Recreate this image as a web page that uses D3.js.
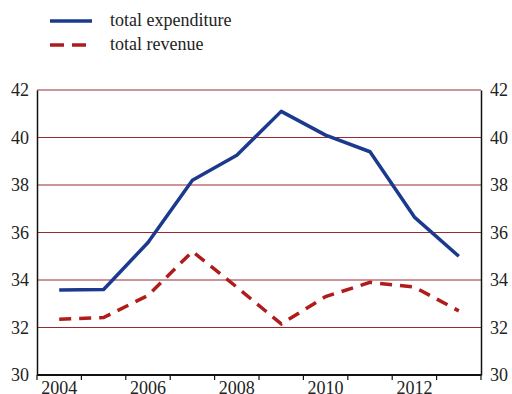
<!DOCTYPE html>
<html>
<head>
<meta charset="utf-8">
<script src="https://cdn.jsdelivr.net/npm/d3@7"></script>
<style>
  body { margin: 0; background: #fff; }
  svg { display: block; }
</style>
</head>
<body>
<svg width="512" height="394"></svg>
<script>
const years = [2004, 2005, 2006, 2007, 2008, 2009, 2010, 2011, 2012, 2013];
const expenditure = [33.58, 33.6, 35.58, 38.2, 39.25, 41.1, 40.1, 39.4, 36.65, 35.0];
const revenue = [32.35, 32.42, 33.35, 35.2, 33.7, 32.15, 33.3, 33.9, 33.7, 32.7];
const yTicks = [30, 32, 34, 36, 38, 40, 42];
const xLabels = [2004, 2006, 2008, 2010, 2012];

const svg = d3.select("svg");
const plotL = 37, plotR = 481, plotT = 90, plotB = 375;

const x = d3.scaleBand().domain(years).range([plotL, plotR]);
const y = d3.scaleLinear().domain([30, 42]).range([plotB, plotT]);

// gridlines
svg.append("g")
  .selectAll("line")
  .data(yTicks.filter(t => t > 30))
  .enter().append("line")
  .attr("x1", plotL).attr("x2", plotR)
  .attr("y1", d => y(d)).attr("y2", d => y(d))
  .attr("stroke", "#9a2a32")
  .attr("stroke-width", 1);

// left and right axes
const yLeft = svg.append("g")
  .attr("transform", `translate(${plotL},0)`)
  .call(d3.axisLeft(y).tickValues(yTicks).tickSize(0).tickPadding(8));
const yRight = svg.append("g")
  .attr("transform", `translate(${plotR},0)`)
  .call(d3.axisRight(y).tickValues(yTicks).tickSize(0).tickPadding(9));
[yLeft, yRight].forEach(g => {
  g.attr("font-family", null).attr("font-size", null);
  g.select(".domain").attr("stroke", "#111").attr("stroke-width", 1.5);
});

// bottom axis: ticks between bands, labels every other year
const xg = svg.append("g").attr("transform", `translate(0,${plotB})`);
xg.append("line")
  .attr("x1", plotL).attr("x2", plotR)
  .attr("stroke", "#111").attr("stroke-width", 2);
xg.selectAll("line.tick")
  .data(years.map(d => x(d)).concat([plotR]))
  .enter().append("line")
  .attr("class", "tick")
  .attr("x1", d => d).attr("x2", d => d)
  .attr("y1", 0).attr("y2", 5)
  .attr("stroke", "#111").attr("stroke-width", 1.2);
xg.selectAll("text")
  .data(xLabels)
  .enter().append("text")
  .attr("x", d => x(d) + x.bandwidth() / 2)
  .attr("y", 19)
  .attr("text-anchor", "middle")
  .text(d => d);

const line = vals => d3.line()
  .x((d, i) => x(years[i]) + x.bandwidth() / 2)
  .y(d => y(d))(vals);

svg.append("path")
  .attr("d", line(revenue))
  .attr("fill", "none")
  .attr("stroke", "#b01c1c")
  .attr("stroke-width", 3.5)
  .attr("stroke-dasharray", "12,8");

svg.append("path")
  .attr("d", line(expenditure))
  .attr("fill", "none")
  .attr("stroke", "#1b3a8e")
  .attr("stroke-width", 3.5)
  .attr("stroke-linejoin", "round");

// legend
const legend = [
  { name: "total expenditure", color: "#1b3a8e", dash: null },
  { name: "total revenue", color: "#b01c1c", dash: "14,8" }
];
const lg = svg.append("g");
legend.forEach((d, i) => {
  const ly = 21 + i * 24;
  lg.append("line")
    .attr("x1", 50).attr("x2", 92)
    .attr("y1", ly).attr("y2", ly)
    .attr("stroke", d.color).attr("stroke-width", 3.5)
    .attr("stroke-dasharray", d.dash);
  lg.append("text")
    .attr("x", 110).attr("y", ly + 5)
    .text(d.name);
});

// one font for every label
svg.selectAll("text")
  .style("font-family", "'Liberation Serif', serif")
  .style("font-size", "18px")
  .attr("fill", "#222");
</script>
</body>
</html>
